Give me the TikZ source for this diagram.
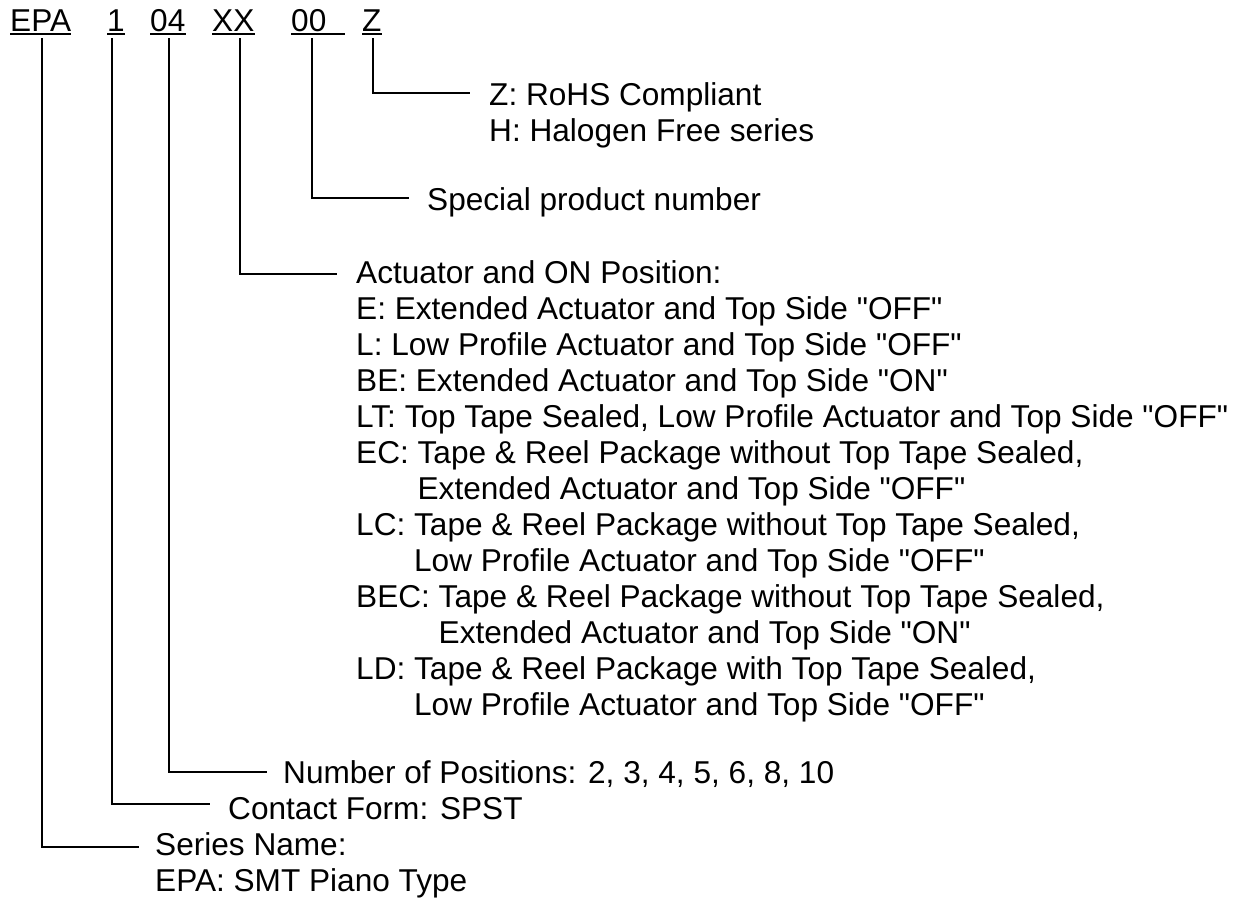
\documentclass[tikz,border=0pt]{standalone}
\usepackage{fontspec}
\setmainfont{Liberation Sans}[Ligatures=TeXOff]
\begin{document}
\begin{tikzpicture}[x=1pt,y=-1pt,
  txt/.style={anchor=base west,inner sep=0pt,font=\fontsize{31.6}{36}\selectfont},
  conn/.style={line width=1.6pt,line cap=rect},
  ul/.style={line width=1.5pt}]
\useasboundingbox (0,0) rectangle (1245,897);
% code row
\node[txt] (cEPA) at (10,31) {EPA};
\node[txt] (c1) at (107,31) {1};
\node[txt] (c04) at (150,31) {04};
\node[txt] (cXX) at (212,31) {XX};
\node[txt] (c00) at (291,31) {00};
\node[txt] (cZ) at (362,31) {Z};
\foreach \n in {cEPA,c1,c04,cXX,cZ}
  \draw[ul] ([yshift=-3pt]\n.base west) -- ([yshift=-3pt]\n.base east);
\draw[ul] ([yshift=-3pt]c00.base west) -- ([xshift=18pt,yshift=-3pt]c00.base east);
% connector ends
\coordinate (tEPA) at (42,39);  \coordinate (eEPA) at (138,847);
\coordinate (t1)   at (112,39); \coordinate (e1)   at (209,804);
\coordinate (t04)  at (169,39); \coordinate (e04)  at (266,772);
\coordinate (tXX)  at (240,39); \coordinate (eXX)  at (336,274);
\coordinate (t00)  at (312,39); \coordinate (e00)  at (408,198);
\coordinate (tZ)   at (373,39); \coordinate (eZ)   at (469,93);
\foreach \k in {EPA,1,04,XX,00,Z}
  \draw[conn] (t\k) |- (e\k);
% Z
\node[txt] (zr) at (489,105) {Z: RoHS Compliant};
\node[txt] (hf) at (489,141) {H: Halogen Free series};
% 00
\node[txt] (spn) at (427,210) {Special product number};
% XX
\node[txt] (act) at (356,283) {Actuator and ON Position:};
\node[txt] (aE) at (356,319) {E: Extended Actuator and Top Side "OFF"};
\node[txt] (aL) at (356,355) {L: Low Profile Actuator and Top Side "OFF"};
\node[txt] (aBE) at (356,391) {BE: Extended Actuator and Top Side "ON"};
\node[txt] (aLT) at (356,427) {LT: Top Tape Sealed, Low Profile Actuator and Top Side "OFF"};
\node[txt] (aEC) at (356,463) {EC: Tape \& Reel Package without Top Tape Sealed,};
\node[txt] (aEC2) at (356,499) {\phantom{EC: }Extended Actuator and Top Side "OFF"};
\node[txt] (aLC) at (356,535) {LC: Tape \& Reel Package without Top Tape Sealed,};
\node[txt] (aLC2) at (356,571) {\phantom{LC: }Low Profile Actuator and Top Side "OFF"};
\node[txt] (aBEC) at (356,607) {BEC: Tape \& Reel Package without Top Tape Sealed,};
\node[txt] (aBEC2) at (356,643) {\phantom{BEC: }Extended Actuator and Top Side "ON"};
\node[txt] (aLD) at (356,679) {LD: Tape \& Reel Package with Top Tape Sealed,};
\node[txt] (aLD2) at (356,715) {\phantom{LD: }Low Profile Actuator and Top Side "OFF"};
% 04, 1, EPA
\node[txt] (npos) at (283,783) {Number of Positions: 2, 3, 4, 5, 6, 8, 10};
\node[txt] (cform) at (228,819) {Contact Form: SPST};
\node[txt] (sname) at (155,855) {Series Name:};
\node[txt] (sname2) at (155,891) {EPA: SMT Piano Type};
\end{tikzpicture}
\end{document}
